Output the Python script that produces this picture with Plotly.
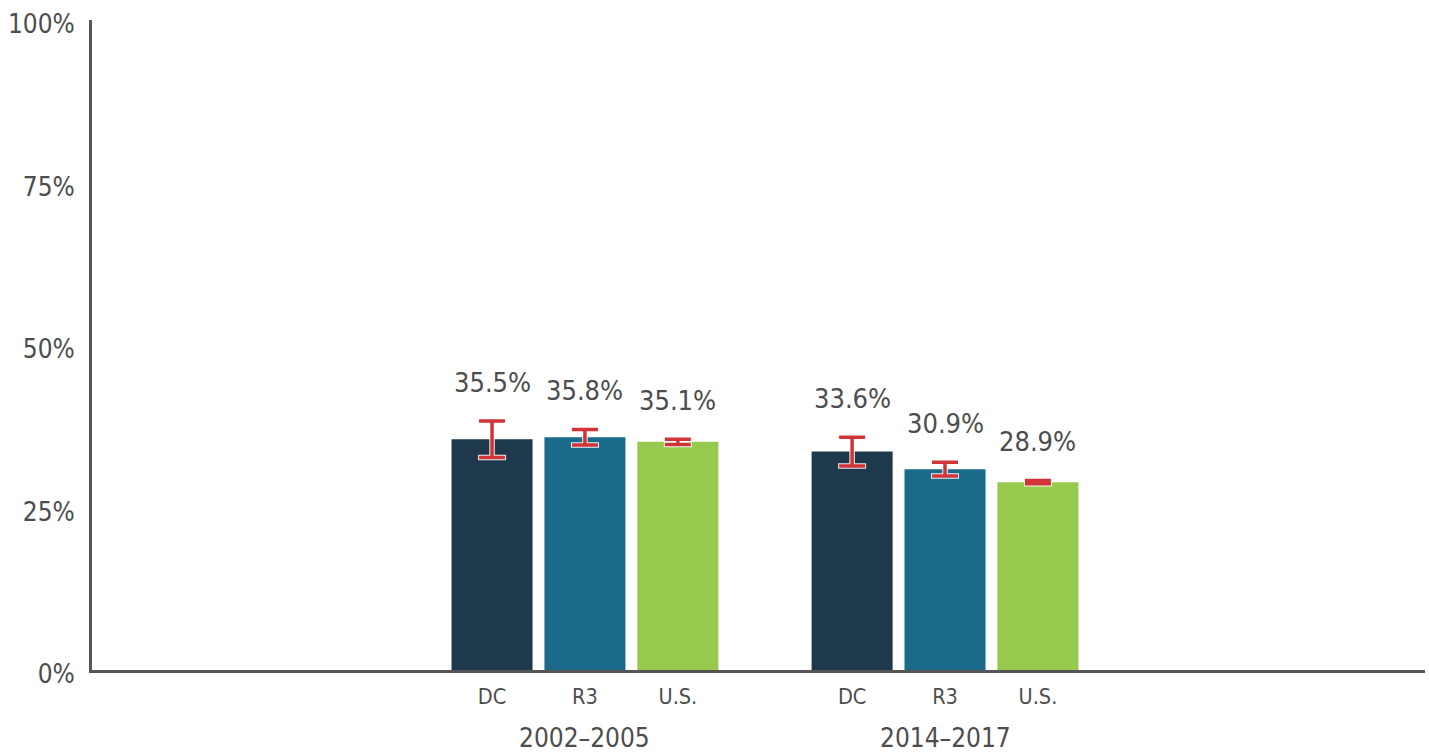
import plotly.graph_objects as go

periods = ["2002–2005", "2014–2017"]
series = ["DC", "R3", "U.S."]
values = {
    "DC": [35.5, 33.6],
    "R3": [35.8, 30.9],
    "U.S.": [35.1, 28.9],
}
errors = {
    "DC": [2.8, 2.2],
    "R3": [1.2, 1.05],
    "U.S.": [0.4, 0.25],
}
colors = {"DC": "#1F394C", "R3": "#1B6A89", "U.S.": "#97C94F"}
y_ticks = [0, 25, 50, 75, 100]
y_ticktext = ["0%", "25%", "50%", "75%", "100%"]

FONT = "DejaVu Sans Condensed, DejaVu Sans, sans-serif"
TEXT = "#4D4D4D"
RED = "#D03438"

offset = 0.258
width = 0.225

fig = go.Figure()
tickvals, ticktext = [], []
annotations = []
for si, s in enumerate(series):
    xs = [gi + (si - 1) * offset for gi in range(len(periods))]
    fig.add_trace(go.Bar(x=xs, y=values[s], width=width, marker=dict(color=colors[s], line=dict(width=0)),
                         name=s, showlegend=False, hoverinfo="skip"))
    tickvals += xs
    ticktext += [s] * len(xs)
    for x, v, e in zip(xs, values[s], errors[s]):
        annotations.append(dict(x=x, y=v + e, text=f"{v:.1f}%", showarrow=False, yanchor="middle",
                                yshift=39, font=dict(family=FONT, size=27, color=TEXT)))

# error bars: white halo then red
for si, s in enumerate(series):
    xs = [gi + (si - 1) * offset for gi in range(len(periods))]
    fig.add_trace(go.Scatter(x=xs, y=values[s], mode="markers", marker=dict(size=1, opacity=0),
                             error_y=dict(type="data", array=errors[s], color="rgba(255,255,255,0.9)",
                                          thickness=5.5, width=14),
                             showlegend=False, hoverinfo="skip"))
for si, s in enumerate(series):
    xs = [gi + (si - 1) * offset for gi in range(len(periods))]
    fig.add_trace(go.Scatter(x=xs, y=values[s], mode="markers", marker=dict(size=1, opacity=0),
                             error_y=dict(type="data", array=errors[s], color=RED, thickness=3.5, width=13),
                             showlegend=False, hoverinfo="skip"))

for gi, p in enumerate(periods):
    annotations.append(dict(x=gi, xref="x", y=0, yref="paper", text=p, showarrow=False, yanchor="middle",
                            yshift=-68, font=dict(family=FONT, size=26, color=TEXT)))

fig.update_layout(
    width=1429, height=753,
    margin=dict(l=92, r=4, t=20, b=83),
    paper_bgcolor="white", plot_bgcolor="white",
    annotations=annotations,
    font=dict(family=FONT, color=TEXT),
)
fig.update_xaxes(range=[-1.369, 2.333], tickvals=tickvals, ticktext=ticktext, showgrid=False, zeroline=False,
                 showline=True, linecolor="#555555", linewidth=3, ticks="", automargin=False,
                 ticklabelstandoff=5,
                 tickfont=dict(family=FONT, size=21.5, color=TEXT))
fig.update_yaxes(range=[0, 100], tickvals=y_ticks, ticktext=y_ticktext, showgrid=False, zeroline=False,
                 showline=True, linecolor="#555555", linewidth=3, ticks="", ticklabelstandoff=9,
                 ticklabelshift=4, automargin=False,
                 tickfont=dict(family=FONT, size=26, color=TEXT))

fig.write_html("out.html", config={"displayModeBar": False},
               post_script="document.body.style.margin='0';")
